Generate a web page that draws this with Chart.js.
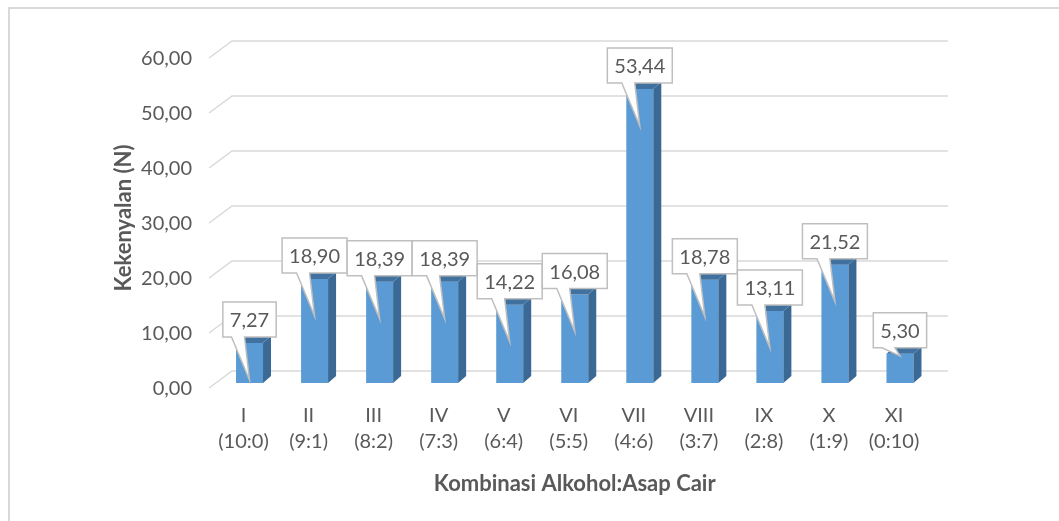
<!DOCTYPE html>
<html>
<head>
<meta charset="utf-8">
<script src="https://cdn.jsdelivr.net/npm/chart.js@4"></script>
<style>
  html, body { margin: 0; padding: 0; background: #fff; }
  #wrap { width: 1059px; height: 521px; position: relative; }
</style>
</head>
<body>
<div id="wrap"><canvas id="myBarChart"></canvas></div>
<script>
const romans = ['I', 'II', 'III', 'IV', 'V', 'VI', 'VII', 'VIII', 'IX', 'X', 'XI'];
const ratios = ['(10:0)', '(9:1)', '(8:2)', '(7:3)', '(6:4)', '(5:5)', '(4:6)', '(3:7)', '(2:8)', '(1:9)', '(0:10)'];
const kekenyalan = [7.27, 18.90, 18.39, 18.39, 14.22, 16.08, 53.44, 18.78, 13.11, 21.52, 5.30];
const yTicks = [0, 10, 20, 30, 40, 50, 60];

const fmt = v => v.toFixed(2).replace('.', ',');
const labels = romans.map((r, i) => [r, ratios[i]]);

// frame + "3D" back wall gridlines, side faces and callouts
const wallPlugin = {
  id: 'wall',
  beforeDatasetsDraw(chart) {
    const ctx = chart.ctx;
    const y = chart.scales.y;
    ctx.save();
    ctx.strokeStyle = '#d9d9d9';
    ctx.lineWidth = 2;
    ctx.beginPath();
    ctx.moveTo(9, 521);
    ctx.lineTo(9, 8);
    ctx.lineTo(1059, 8);
    ctx.stroke();
    ctx.lineWidth = 1.5;
    yTicks.forEach(v => {
      const py = y.getPixelForValue(v);
      ctx.beginPath();
      ctx.moveTo(209, py + 5);
      ctx.lineTo(232, py - 12);
      ctx.lineTo(948, py - 12);
      ctx.stroke();
    });
    ctx.restore();
  },
  afterDatasetsDraw(chart) {
    const ctx = chart.ctx;
    const meta = chart.getDatasetMeta(0);
    const dx = 8, dy = -7;
    ctx.save();
    meta.data.forEach(bar => {
      const p = bar.getProps(['x', 'y', 'base', 'width'], true);
      const l = p.x - p.width / 2, r = p.x + p.width / 2;
      ctx.fillStyle = '#3b6995';
      ctx.beginPath();
      ctx.moveTo(r, p.base);
      ctx.lineTo(r + dx, p.base + dy);
      ctx.lineTo(r + dx, p.y + dy);
      ctx.lineTo(r, p.y);
      ctx.closePath();
      ctx.fill();
      ctx.fillStyle = '#41729f';
      ctx.beginPath();
      ctx.moveTo(l, p.y);
      ctx.lineTo(l + dx, p.y + dy);
      ctx.lineTo(r + dx, p.y + dy);
      ctx.lineTo(r, p.y);
      ctx.closePath();
      ctx.fill();
    });
    ctx.font = '20px Lato';
    ctx.textAlign = 'center';
    ctx.textBaseline = 'middle';
    meta.data.forEach((bar, i) => {
      const p = bar.getProps(['x', 'y', 'base', 'width'], true);
      const txt = fmt(kekenyalan[i]);
      const w = ctx.measureText(txt).width + 14;
      const h = 35;
      const cx = p.x;
      const by = p.y - 6;
      let tip = p.y + 37;
      if (tip > p.base) tip = p.y + 2;
      ctx.beginPath();
      ctx.moveTo(cx - w / 2, by - h);
      ctx.lineTo(cx + w / 2, by - h);
      ctx.lineTo(cx + w / 2, by);
      ctx.lineTo(cx - 5, by);
      ctx.lineTo(cx, tip);
      ctx.lineTo(cx - 18, by);
      ctx.lineTo(cx - w / 2, by);
      ctx.closePath();
      ctx.fillStyle = '#ffffff';
      ctx.fill();
      ctx.strokeStyle = '#bfbfbf';
      ctx.lineWidth = 1.5;
      ctx.stroke();
      ctx.fillStyle = '#595959';
      ctx.fillText(txt, cx, by - h / 2 + 1);
    });
    ctx.restore();
  }
};

const ctx = document.getElementById('myBarChart').getContext('2d');
new Chart(ctx, {
  type: 'bar',
  data: {
    labels: labels,
    datasets: [{
      label: 'Kekenyalan (N)',
      data: kekenyalan,
      backgroundColor: '#5b9bd5',
      borderWidth: 0,
      barPercentage: 0.415,
      categoryPercentage: 1
    }]
  },
  plugins: [wallPlugin],
  options: {
    responsive: true,
    maintainAspectRatio: false,
    animation: false,
    layout: { padding: { left: 107, top: 53, right: 126.5, bottom: 20 } },
    plugins: {
      legend: { display: false },
      tooltip: { enabled: false }
    },
    scales: {
      x: {
        grid: { display: false, drawTicks: false },
        border: { display: false },
        ticks: {
          color: '#595959',
          font: { family: 'Lato', size: 20, lineHeight: 1.3 },
          padding: 20,
          labelOffset: -6,
          maxRotation: 0,
          autoSkip: false
        },
        title: {
          display: true,
          text: 'Kombinasi Alkohol:Asap Cair',
          color: '#595959',
          font: { family: 'Lato', size: 22, weight: 'bold' },
          padding: { top: 4, bottom: 4 }
        },
        afterFit(scale) { scale.height = 118; }
      },
      y: {
        min: 0,
        max: 60,
        grid: { display: false, drawTicks: false },
        border: { display: false },
        ticks: {
          stepSize: 10,
          color: '#595959',
          font: { family: 'Lato', size: 20 },
          padding: 25,
          labelOffset: 6,
          callback: v => fmt(v)
        },
        title: {
          display: true,
          text: 'Kekenyalan (N)',
          color: '#595959',
          font: { family: 'Lato', size: 22, weight: 'bold' },
          padding: { top: 4, bottom: 4 }
        },
        afterFit(scale) { scale.width = 110; }
      }
    }
  }
});
</script>
</body>
</html>
